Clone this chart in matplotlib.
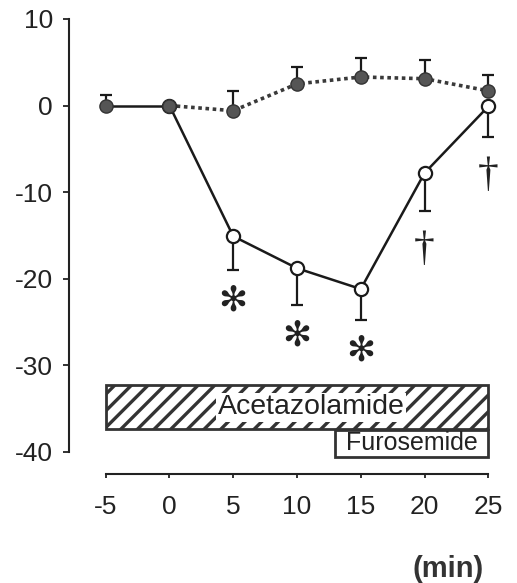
import matplotlib
matplotlib.use("Agg")
import matplotlib.pyplot as plt
from matplotlib.patches import Rectangle
import numpy as np

plt.rcParams['font.family'] = ['Liberation Sans', 'DejaVu Sans']
plt.rcParams['hatch.linewidth'] = 2.4
plt.rcParams['hatch.color'] = '#3a3a3a'

# data
time = [-5, 0, 5, 10, 15, 20, 25]
ctrl_mean = [0.0, 0.0, -0.6, 2.5, 3.3, 3.1, 1.7]
ctrl_err = [1.2, 0.0, 2.3, 1.9, 2.2, 2.2, 1.8]
furo_time = [0, 5, 10, 15, 20, 25]
furo_mean = [0.0, -15.1, -18.8, -21.2, -7.8, -0.1]
furo_err = [0.0, 3.9, 4.3, 3.6, 4.4, 3.5]
star_idx = [1, 2, 3]      # significance (*)
dagger_idx = [4, 5]       # significance (†)
xticks = [-5, 0, 5, 10, 15, 20, 25]
yticks = [10, 0, -10, -20, -30, -40]

fig = plt.figure(figsize=(5.17, 5.83), dpi=100)
ax = fig.add_axes([69/517, 1 - 474/583, 436/517, (474 - 19)/583])
ax.set_xlim(-5 - 36.7/12.753, 25 + 16.7/12.753)
ax.set_ylim(-40 - 22.3/8.66, 10)

dark = '#1a1a1a'
gray = '#555555'

# furosemide (open circles), errors downward
ax.errorbar(furo_time, furo_mean, yerr=[furo_err, [0]*len(furo_err)], fmt='none',
            ecolor=dark, elinewidth=1.6, capsize=4, capthick=1.6, zorder=2, clip_on=False)
ax.plot(furo_time, furo_mean, '-', color=dark, lw=1.8, zorder=3, clip_on=False)
ax.plot(furo_time, furo_mean, 'o', ms=9.5, mfc='white', mec=dark, mew=1.6, zorder=4, clip_on=False)

# control (filled circles), errors upward
ax.errorbar(time, ctrl_mean, yerr=[[0]*len(ctrl_err), ctrl_err], fmt='none',
            ecolor=dark, elinewidth=1.6, capsize=4, capthick=1.6, zorder=2, clip_on=False)
ax.plot(time[:2], ctrl_mean[:2], '-', color=dark, lw=1.8, zorder=3, clip_on=False)
ax.plot(time[1:], ctrl_mean[1:], color='#3a3a3a', lw=2.6, linestyle=(0, (1.0, 1.0)),
        dash_capstyle='butt', zorder=3, clip_on=False)
ax.plot(time, ctrl_mean, 'o', ms=9.5, mfc=gray, mec='#333333', mew=1.0, zorder=5, clip_on=False)

# significance marks
for i in star_idx:
    ax.annotate('✻', (furo_time[i], furo_mean[i] - furo_err[i]), xytext=(0, -22),
                textcoords='offset points', ha='center', va='center', fontsize=25,
                color='#222222', family=['DejaVu Sans'])
for i in dagger_idx:
    ax.annotate('†', (furo_time[i], furo_mean[i] - furo_err[i]), xytext=(0, -28),
                textcoords='offset points', ha='center', va='center', fontsize=30,
                color='#222222', family=['Liberation Serif', 'DejaVu Sans'])

# treatment bars
ax.add_patch(Rectangle((-5, -37.4), 30, 5.1, facecolor='white', edgecolor='#333333',
                       hatch='//', lw=2.0, zorder=2, clip_on=False))
ax.text(11.1, -34.85, 'Acetazolamide', ha='center', va='center', fontsize=20.5, color='#222222',
        bbox=dict(boxstyle='square,pad=0.05', fc='white', ec='none'), zorder=3)
ax.add_patch(Rectangle((13, -40.6), 12, 3.1, facecolor='white', edgecolor='#333333',
                       lw=2.0, zorder=2, clip_on=False))
ax.text(19.0, -39.0, 'Furosemide', ha='center', va='center', fontsize=18, color='#222222', zorder=3)

# axes styling
for s in ['top', 'right']:
    ax.spines[s].set_visible(False)
ax.spines['left'].set_bounds(-40, 10)
ax.spines['bottom'].set_bounds(-5, 25)
for s in ['left', 'bottom']:
    ax.spines[s].set_linewidth(1.5)
    ax.spines[s].set_color('#222222')
ax.set_xticks(xticks)
ax.set_yticks(yticks)
ax.set_xticklabels([str(v) for v in xticks])
ax.set_yticklabels([str(v) for v in yticks])
ax.tick_params(axis='y', direction='out', length=4.5, width=1.3, pad=7, labelsize=19, colors='#222222')
ax.tick_params(axis='x', direction='out', length=3, width=1.3, pad=12, labelsize=19, colors='#222222')

fig.text(448/517, 1 - 569/583, '(min)', ha='center', va='center', fontsize=21,
         fontweight='bold', color='#333333')

fig.savefig('out.png', dpi=100)
